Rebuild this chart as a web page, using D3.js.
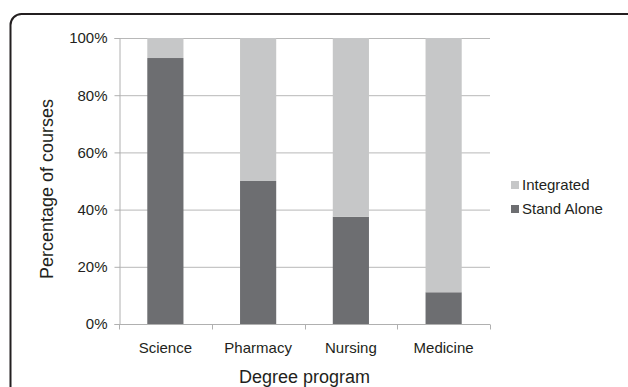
<!DOCTYPE html>
<html>
<head>
<meta charset="utf-8">
<script src="https://cdn.jsdelivr.net/npm/d3@7"></script>
<style>
  html, body { margin: 0; padding: 0; background: #fff; }
  svg { display: block; font-family: "Liberation Sans", Arial, sans-serif; }
</style>
</head>
<body>
<svg id="chart" width="628" height="387"></svg>
<script>
// Degree programs and share of courses delivered stand-alone vs integrated
const programs = ["Science", "Pharmacy", "Nursing", "Medicine"];
const standAlone = [93, 50, 37.5, 11.1];
const integrated = [7, 50, 62.5, 88.9];
const seriesNames = ["Integrated", "Stand Alone"];
const yTicks = [0, 20, 40, 60, 80, 100];

const colors = { "Stand Alone": "#6d6e71", "Integrated": "#c6c7c8" };
const textColor = "#231f20";

const svg = d3.select("#chart");

// outer frame (rounded, running off the right and bottom edges)
svg.append("rect")
  .attr("x", 10.5).attr("y", 14)
  .attr("width", 640).attr("height", 400)
  .attr("rx", 11).attr("ry", 11)
  .attr("fill", "none")
  .attr("stroke", "#231f20")
  .attr("stroke-width", 2);

const plot = { left: 119, right: 490, top: 38, bottom: 324 };

const x = d3.scaleBand()
  .domain(programs)
  .range([plot.left, plot.right])
  .paddingInner(0.61)
  .paddingOuter(0.305);

const y = d3.scaleLinear()
  .domain([0, 100])
  .range([plot.bottom, plot.top]);

// gridlines
svg.append("g")
  .selectAll("line")
  .data(yTicks.filter(t => t > 0))
  .join("line")
  .attr("x1", plot.left).attr("x2", plot.right)
  .attr("y1", d => y(d) + 0.5).attr("y2", d => y(d) + 0.5)
  .attr("stroke", "#b8b8b8").attr("stroke-width", 1);

// stacked bars
const rows = programs.map((p, i) => ({ program: p, "Stand Alone": standAlone[i], "Integrated": integrated[i] }));
const stack = d3.stack().keys(["Stand Alone", "Integrated"]);
const layers = stack(rows);

svg.append("g")
  .selectAll("g")
  .data(layers)
  .join("g")
  .attr("fill", d => colors[d.key])
  .selectAll("rect")
  .data(d => d)
  .join("rect")
  .attr("x", d => x(d.data.program))
  .attr("width", x.bandwidth())
  .attr("y", d => y(d[1]))
  .attr("height", d => y(d[0]) - y(d[1]));

// y axis
const yAxis = svg.append("g")
  .attr("transform", `translate(${plot.left + 0.5},0)`)
  .call(d3.axisLeft(y).tickValues(yTicks).tickFormat(d => d + "%").tickSize(5).tickPadding(7));
yAxis.select(".domain").attr("stroke", "#b0b0b0");
yAxis.selectAll(".tick line").attr("stroke", "#b0b0b0");
yAxis.selectAll("text")
  .attr("fill", textColor)
  .style("font-size", "15px")
  .style("font-family", "'Liberation Sans', Arial, sans-serif");

// x axis with ticks at category boundaries
const xAxis = svg.append("g")
  .attr("transform", `translate(0,${plot.bottom + 0.5})`);
xAxis.append("line")
  .attr("x1", plot.left).attr("x2", plot.right)
  .attr("stroke", "#b0b0b0");
const step = x.step();
const boundaries = d3.range(programs.length + 1).map(i => plot.left + i * step);
xAxis.selectAll(".bnd")
  .data(boundaries)
  .join("line")
  .attr("class", "bnd")
  .attr("x1", d => Math.round(d) + 0.5).attr("x2", d => Math.round(d) + 0.5)
  .attr("y1", 0).attr("y2", 5)
  .attr("stroke", "#b0b0b0");
xAxis.selectAll(".lbl")
  .data(programs)
  .join("text")
  .attr("class", "lbl")
  .attr("x", d => x(d) + x.bandwidth() / 2)
  .attr("y", 28)
  .attr("text-anchor", "middle")
  .attr("fill", textColor)
  .style("font-size", "15px")
  .text(d => d);

// axis titles
svg.append("text")
  .attr("x", (plot.left + plot.right) / 2)
  .attr("y", 383)
  .attr("text-anchor", "middle")
  .attr("fill", textColor)
  .style("font-size", "18px")
  .text("Degree program");

svg.append("text")
  .attr("transform", `translate(53,${(plot.top + plot.bottom) / 2 + 8}) rotate(-90)`)
  .attr("text-anchor", "middle")
  .attr("fill", textColor)
  .style("font-size", "18px")
  .text("Percentage of courses");

// legend
const legend = svg.append("g")
  .attr("transform", "translate(511,0)");
const legendItems = legend.selectAll("g")
  .data(seriesNames)
  .join("g")
  .attr("transform", (d, i) => `translate(0,${185 + i * 24})`);
legendItems.append("rect")
  .attr("x", 0).attr("y", -4)
  .attr("width", 8).attr("height", 8)
  .attr("fill", d => colors[d]);
legendItems.append("text")
  .attr("x", 11).attr("y", 5)
  .attr("fill", textColor)
  .style("font-size", "15px")
  .text(d => d);
</script>
</body>
</html>
